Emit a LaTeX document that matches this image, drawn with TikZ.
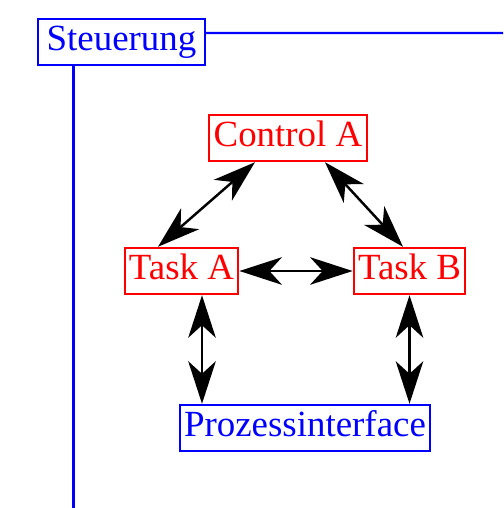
\documentclass[tikz,border=0pt]{standalone}
\usepackage{fontspec}
\setmainfont{Liberation Serif}
\usetikzlibrary{arrows.meta}

\begin{document}
\begin{tikzpicture}[>={Stealth[length=0.85cm,width=0.55cm,inset=0.25cm]},font=\fontsize{21}{25}\selectfont]
\tikzstyle{box}=[draw,line width=1.1pt,minimum height=0.92cm,inner xsep=2.5pt,text height=15pt,text depth=4.8pt]
\tikzstyle{task}=[box,red,text=red]
\tikzstyle{io}=[box,blue,text=blue]
\tikzstyle{link}=[<->,line width=1.4pt]
\tikzstyle{frame}=[blue,line width=1.4pt]
\useasboundingbox (0,0) rectangle (10.06,-10.16);
\node[io,inner xsep=5pt] (steu) at (2.43,-0.84) {Steuerung};
\node[task] (ctrl) at (5.76,-2.76) {Control A};
\node[task] (taskA) at (3.63,-5.42) {Task A}; \node[task] (taskB) at (8.19,-5.42) {Task B};
\node[io] (proz) at (6.10,-8.56) {Prozessinterface};
\coordinate (rend) at (10.06,-0.66); \coordinate (bend) at (1.47,-10.16);
\draw[frame] ([yshift=0.18cm]steu.east) -- (rend);
\draw[frame] (steu.south -| bend) -- (bend);
\draw[link] ([xshift=-0.66cm]ctrl.south) -- ([xshift=-0.47cm]taskA.north);
\draw[link] ([xshift=0.74cm]ctrl.south) -- ([xshift=-0.13cm]taskB.north);
\draw[link] (taskA.east) -- (taskB.west);
\draw[link] ([xshift=0.41cm]taskA.south) -- ([xshift=0.41cm]taskA.south |- proz.north);
\draw[link] (taskB.south) -- (taskB.south |- proz.north);
\end{tikzpicture}
\end{document}
